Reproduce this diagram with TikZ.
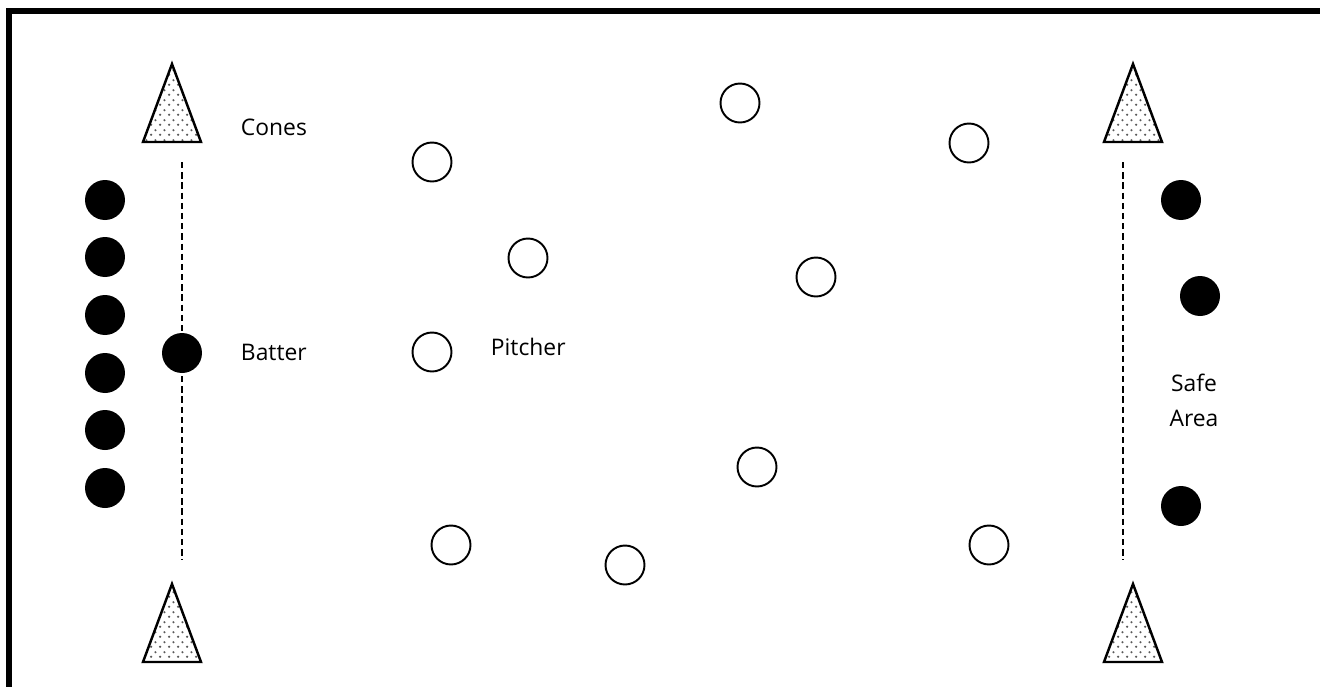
\documentclass[tikz,border=0pt]{standalone}
\usepackage{fontspec}
\setmainfont{Open Sans}
\usetikzlibrary{patterns}
\pgfdeclarepatternformonly{cone dots}{\pgfqpoint{0pt}{0pt}}{\pgfqpoint{5pt}{5.4pt}}{\pgfqpoint{5pt}{5.4pt}}{
  \pgfpathcircle{\pgfqpoint{1.25pt}{1.35pt}}{0.7pt}
  \pgfpathcircle{\pgfqpoint{3.75pt}{4.05pt}}{0.7pt}
  \pgfusepath{fill}
}
\tikzset{
  every picture/.style={line width=1.1pt},
  fielder/.style={circle, draw, fill=white, minimum size=0.78cm, inner sep=0pt},
  runner/.style={circle, fill=black, minimum size=0.8cm, inner sep=0pt},
  tag/.style={font=\fontsize{13}{19.8}\selectfont, inner sep=0pt},
  baseline path/.style={dash pattern=on 3.6pt off 2.2pt, line width=1pt},
  cone/.pic={\draw[line width=1.4pt, pattern=cone dots, pattern color=black!65]
    (-29,39) -- (0,-39) -- (29,39) -- cycle;},
}
\begin{document}
\begin{tikzpicture}[x=0.02cm, y=-0.02cm]
  \useasboundingbox (0,0) rectangle (1320,687);
  % frame, only top and left edges show
  \draw[line width=3.4pt] (9,687) |- (1320,11);
  % cones
  \pic at (172,103) {cone};
  \pic at (172,623) {cone};
  \pic at (1133,103) {cone};
  \pic at (1133,623) {cone};
  % base lines
  \coordinate (homeTop) at (182,162);
  \coordinate (homeBot) at (182,560);
  \coordinate (safeTop) at (1123,162);
  \coordinate (safeBot) at (1123,560);
  \draw[baseline path] (homeTop) -- (homeBot);
  \draw[baseline path] (safeTop) -- (safeBot);
  % batting line-up
  \foreach \y [count=\i] in {200,257,315,373,430,488}
    \node[runner] (wait\i) at (105,\y) {};
  \node[runner] (batter) at (182,353) {};
  % runners home safe
  \node[runner] (safe1) at (1181,200) {};
  \node[runner] (safe2) at (1200,296) {};
  \node[runner] (safe3) at (1181,506) {};
  % fielders
  \node[fielder] (f1) at (432,162) {};
  \node[fielder] (f2) at (740,103) {};
  \node[fielder] (f3) at (969,143) {};
  \node[fielder] (f4) at (528,258) {};
  \node[fielder] (f5) at (816,277) {};
  \node[fielder] (pitcher) at (432,352) {};
  \node[fielder] (f6) at (757,467) {};
  \node[fielder] (f7) at (451,545) {};
  \node[fielder] (f8) at (625,565) {};
  \node[fielder] (f9) at (989,545) {};
  % labels
  \node[tag, anchor=west] (conesTxt) at (240,127) {Cones};
  \node[tag, anchor=west] (batterTxt) at (240,352) {Batter};
  \node[tag, anchor=west] (pitcherTxt) at (490,347) {Pitcher};
  \node[tag, align=center] (safeTxt) at (1194,400) {Safe\\Area};
\end{tikzpicture}
\end{document}
